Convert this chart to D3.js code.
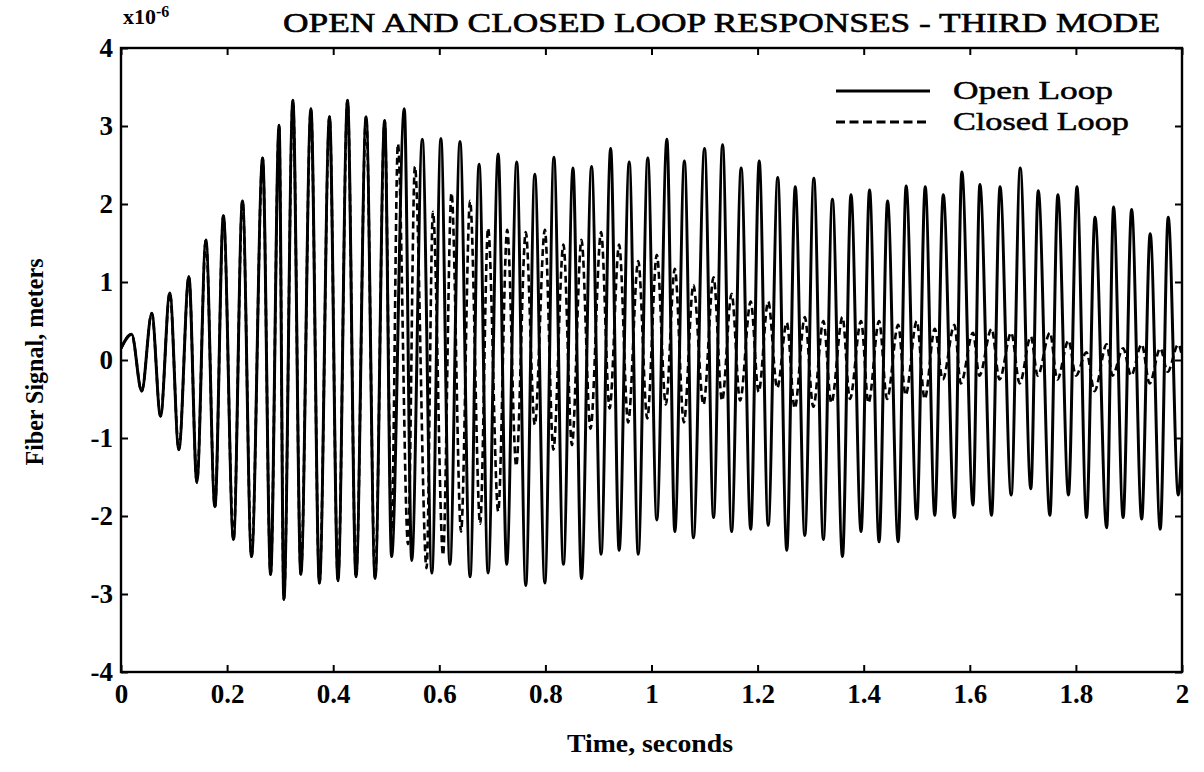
<!DOCTYPE html>
<html>
<head>
<meta charset="utf-8">
<script src="https://cdn.jsdelivr.net/npm/d3@7/dist/d3.min.js"></script>
<style>
  html, body { margin: 0; padding: 0; background: #fff; }
  svg { display: block; }
</style>
</head>
<body>
<svg id="chart" width="1204" height="772"></svg>
<script>
// ---------------- data ----------------
const chartTitle = "OPEN AND CLOSED LOOP RESPONSES - THIRD MODE";
const xLabel = "Time, seconds";
const yLabel = "Fiber Signal, meters";
const seriesNames = ["Open Loop", "Closed Loop"];

const xTicks = [0, 0.2, 0.4, 0.6, 0.8, 1, 1.2, 1.4, 1.6, 1.8, 2];
const xTickLabels = ["0", "0.2", "0.4", "0.6", "0.8", "1", "1.2", "1.4", "1.6", "1.8", "2"];
const yTicks = [-4, -3, -2, -1, 0, 1, 2, 3, 4];
const yTickLabels = ["-4", "-3", "-2", "-1", "0", "1", "2", "3", "4"];

// open loop: times (s) and values (x10^-6 m) of successive peaks / troughs
const openT = [0, 0.020, 0.039, 0.058, 0.0745, 0.092, 0.109, 0.128, 0.143, 0.160,
  0.177, 0.193, 0.212, 0.229, 0.246, 0.267, 0.282, 0.298, 0.307, 0.324,
  0.339, 0.358, 0.374, 0.393, 0.409, 0.427, 0.443, 0.462, 0.479, 0.497,
  0.510, 0.534, 0.548, 0.568, 0.586, 0.603, 0.620, 0.639, 0.658, 0.675,
  0.692, 0.711, 0.727, 0.746, 0.763, 0.780, 0.799, 0.816, 0.834, 0.852,
  0.868, 0.887, 0.905, 0.923, 0.939, 0.958, 0.975, 0.993, 1.010, 1.029,
  1.044, 1.062, 1.079, 1.100, 1.117, 1.134, 1.151, 1.169, 1.187, 1.203,
  1.220, 1.238, 1.255, 1.271, 1.289, 1.306, 1.324, 1.341, 1.360, 1.376,
  1.395, 1.411, 1.429, 1.445, 1.465, 1.480, 1.500, 1.516, 1.534, 1.550,
  1.571, 1.585, 1.606, 1.619, 1.641, 1.657, 1.678, 1.695, 1.715, 1.729,
  1.751, 1.766, 1.786, 1.802, 1.820, 1.836, 1.858, 1.871, 1.889, 1.905,
  1.924, 1.940, 1.959, 1.974, 1.993, 2.000];
const openV = [0.15, 0.33, -0.40, 0.60, -0.72, 0.86, -1.15, 1.07, -1.57, 1.54,
  -1.88, 1.85, -2.30, 2.04, -2.52, 2.59, -2.75, 3.01, -3.07, 3.33,
  -2.75, 3.22, -2.86, 3.12, -2.83, 3.33, -2.78, 3.12, -2.80, 3.07,
  -2.52, 3.22, -2.57, 2.83, -2.73, 2.84, -2.62, 2.80, -2.78, 2.51,
  -2.73, 2.64, -2.62, 2.54, -2.89, 2.38, -2.86, 2.60, -2.62, 2.46,
  -2.80, 2.48, -2.49, 2.71, -2.44, 2.54, -2.49, 2.59, -2.05, 2.83,
  -2.20, 2.55, -2.28, 2.71, -2.02, 2.76, -2.20, 2.46, -2.17, 2.55,
  -2.12, 2.34, -2.44, 2.22, -2.25, 2.33, -2.30, 2.06, -2.52, 2.12,
  -2.20, 2.18, -2.33, 2.04, -2.33, 2.23, -2.04, 2.22, -1.99, 2.12,
  -2.02, 2.41, -1.86, 2.25, -1.99, 2.22, -1.73, 2.46, -1.65, 2.17,
  -1.99, 2.12, -1.73, 2.22, -2.02, 1.83, -2.15, 1.96, -2.02, 1.93,
  -2.04, 1.62, -2.17, 1.83, -1.73, -1.00];

// closed loop follows the open loop until the controller switches on (first 30 points shared)
const sharedPoints = 30;
const closedTailT = [0.510, 0.522, 0.541, 0.554, 0.576, 0.588, 0.607, 0.623, 0.641, 0.658,
  0.677, 0.692, 0.711, 0.728, 0.745, 0.763, 0.780, 0.799, 0.815, 0.834,
  0.850, 0.868, 0.885, 0.905, 0.921, 0.939, 0.956, 0.975, 0.992, 1.010,
  1.027, 1.044, 1.061, 1.079, 1.098, 1.117, 1.133, 1.151, 1.167, 1.187,
  1.202, 1.220, 1.237, 1.255, 1.270, 1.289, 1.305, 1.324, 1.339, 1.360,
  1.374, 1.395, 1.409, 1.429, 1.444, 1.465, 1.479, 1.500, 1.515, 1.534,
  1.549, 1.571, 1.583, 1.606, 1.618, 1.641, 1.656, 1.678, 1.694, 1.715,
  1.728, 1.751, 1.765, 1.786, 1.800, 1.820, 1.835, 1.858, 1.869, 1.889,
  1.904, 1.924, 1.939, 1.959, 1.973, 1.993, 2.000];
const closedTailV = [-2.20, 2.77, -2.36, 2.48, -2.67, 1.90, -2.50, 2.14, -2.20, 2.04,
  -2.10, 1.69, -1.94, 1.67, -1.36, 1.64, -0.83, 1.67, -1.15, 1.48,
  -1.09, 1.54, -0.88, 1.64, -0.62, 1.48, -0.80, 1.27, -0.75, 1.35,
  -0.57, 1.17, -0.80, 0.96, -0.57, 1.06, -0.52, 0.85, -0.52, 0.75,
  -0.41, 0.75, -0.36, 0.48, -0.62, 0.55, -0.60, 0.50, -0.55, 0.55,
  -0.50, 0.50, -0.55, 0.50, -0.50, 0.45, -0.45, 0.50, -0.50, 0.40,
  -0.25, 0.45, -0.30, 0.35, -0.20, 0.40, -0.25, 0.35, -0.30, 0.30,
  -0.20, 0.35, -0.25, 0.25, -0.20, 0.10, -0.40, 0.20, -0.20, 0.15,
  -0.20, 0.20, -0.30, 0.15, -0.15, 0.20, 0.05];

// ---------------- build ----------------
const openData = openT.map((t, i) => ({ t, v: openV[i] }));
const closedData = openData.slice(0, sharedPoints)
  .concat(closedTailT.map((t, i) => ({ t, v: closedTailV[i] })));

const svg = d3.select("#chart");
const L = 121, R = 1182, T = 48, B = 672;
const x = d3.scaleLinear().domain([0, 2]).range([L, R]);
const y = d3.scaleLinear().domain([-4, 4]).range([B, T]);

const serif = "'Liberation Serif', 'Times New Roman', serif";

svg.append("defs").append("clipPath").attr("id", "clip")
  .append("rect").attr("x", L).attr("y", T).attr("width", R - L).attr("height", B - T);

// axes
const tickFont = g => g.selectAll("text")
  .attr("font-family", serif).attr("font-size", 27).attr("font-weight", "bold").attr("fill", "#000");

const gx = svg.append("g").attr("transform", `translate(0,${B})`)
  .call(d3.axisBottom(x).tickValues(xTicks).tickFormat((d, i) => xTickLabels[i]).tickSize(-7).tickPadding(12));
gx.call(tickFont);
const gy = svg.append("g").attr("transform", `translate(${L},0)`)
  .call(d3.axisLeft(y).tickValues(yTicks).tickFormat((d, i) => yTickLabels[i]).tickSize(-7).tickPadding(8));
gy.call(tickFont);
svg.append("g").attr("transform", `translate(0,${T})`)
  .call(d3.axisTop(x).tickValues(xTicks).tickFormat("").tickSize(-7));
svg.append("g").attr("transform", `translate(${R},0)`)
  .call(d3.axisRight(y).tickValues(yTicks).tickFormat("").tickSize(-7));
svg.selectAll(".domain").remove();
svg.selectAll(".tick line").attr("stroke", "#000").attr("stroke-width", 2);

// curves
const line = d3.line().x(d => x(d.t)).y(d => y(d.v)).curve(d3.curveMonotoneX);
const plot = svg.append("g").attr("clip-path", "url(#clip)");
plot.append("path").datum(closedData).attr("d", line)
  .attr("fill", "none").attr("stroke", "#000").attr("stroke-width", 2.6)
  .attr("stroke-dasharray", "7,4");
plot.append("path").datum(openData).attr("d", line)
  .attr("fill", "none").attr("stroke", "#000").attr("stroke-width", 3);

// frame
svg.append("rect").attr("x", L).attr("y", T).attr("width", R - L).attr("height", B - T)
  .attr("fill", "none").attr("stroke", "#000").attr("stroke-width", 2.4);

// title
svg.append("text").attr("x", 283).attr("y", 32)
  .attr("font-family", serif).attr("font-size", 28).attr("stroke", "#000").attr("stroke-width", 0.6)
  .attr("textLength", 877).attr("lengthAdjust", "spacingAndGlyphs").text(chartTitle);

// exponent
const ex = svg.append("text").attr("x", 123).attr("y", 24)
  .attr("font-family", serif).attr("font-size", 22).attr("font-weight", "bold");
ex.append("tspan").text("x10");
ex.append("tspan").attr("font-size", 16).attr("dy", -7).text("-6");

// axis labels
svg.append("text").attr("x", 650).attr("y", 752).attr("text-anchor", "middle")
  .attr("font-family", serif).attr("font-size", 26).attr("font-weight", "bold")
  .attr("textLength", 166).attr("lengthAdjust", "spacingAndGlyphs").text(xLabel);
svg.append("text").attr("transform", "translate(43,362) rotate(-90)").attr("text-anchor", "middle")
  .attr("font-family", serif).attr("font-size", 26).attr("font-weight", "bold")
  .attr("textLength", 207).attr("lengthAdjust", "spacingAndGlyphs").text(yLabel);

// legend
const legend = svg.append("g");
legend.append("line").attr("x1", 836).attr("x2", 930).attr("y1", 91).attr("y2", 91)
  .attr("stroke", "#000").attr("stroke-width", 3);
legend.append("line").attr("x1", 836).attr("x2", 930).attr("y1", 122).attr("y2", 122)
  .attr("stroke", "#000").attr("stroke-width", 3).attr("stroke-dasharray", "9,4.5");
legend.append("text").attr("x", 953).attr("y", 99)
  .attr("font-family", serif).attr("font-size", 26).attr("stroke", "#000").attr("stroke-width", 0.5)
  .attr("textLength", 160).attr("lengthAdjust", "spacingAndGlyphs").text(seriesNames[0]);
legend.append("text").attr("x", 953).attr("y", 130)
  .attr("font-family", serif).attr("font-size", 26).attr("stroke", "#000").attr("stroke-width", 0.5)
  .attr("textLength", 176).attr("lengthAdjust", "spacingAndGlyphs").text(seriesNames[1]);
</script>
</body>
</html>
